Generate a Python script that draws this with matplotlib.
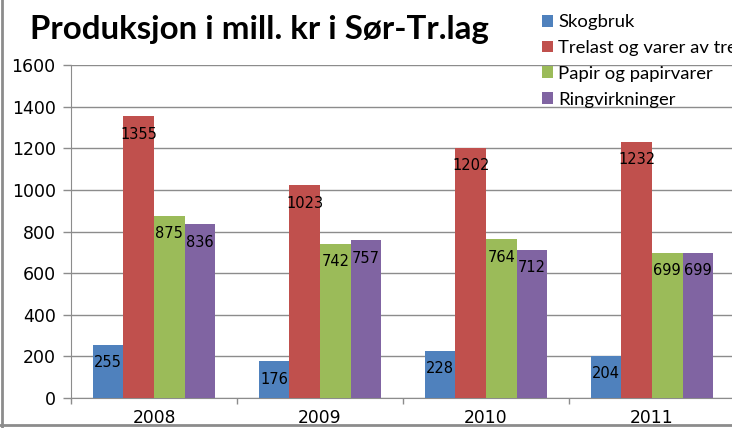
import numpy as np
from matplotlib import pyplot as plt
from matplotlib.lines import Line2D

years = ['2008', '2009', '2010', '2011']
series = ['Skogbruk', 'Trelast og varer av tre', 'Papir og papirvarer', 'Ringvirkninger']
skogbruk = [255, 176, 228, 204]
trelast = [1355, 1023, 1202, 1232]
papir = [875, 742, 764, 699]
ringvirkninger = [836, 757, 712, 699]
colors = ['#4F81BD', '#C0504D', '#9BBB59', '#8064A2']

W, H = 732, 428
fig = plt.figure(figsize=(W / 100, H / 100), dpi=100)
ax = fig.add_axes([71 / W, 1 - 398 / H, 664 / W, 333 / H])

x = np.arange(len(years))
bw = 0.184
values = [skogbruk, trelast, papir, ringvirkninger]
for i, (vals, name, c) in enumerate(zip(values, series, colors)):
    pos = x + (i - 1.5) * bw
    ax.bar(pos, vals, width=bw, color=c, label=name, zorder=3)
    for px, v in zip(pos, vals):
        ax.annotate(str(v), (px, v), xytext=(0, -13), textcoords='offset points',
                    ha='center', va='center', fontsize=10.5, color='black', zorder=4)

ax.set_ylim(0, 1600)
ax.set_xlim(-0.5, 3.5)
ax.set_yticks(range(0, 1601, 200))
ax.yaxis.grid(True, color='#8c8c8c', linewidth=1, zorder=0)
ax.tick_params(axis='y', length=6, width=1, color='#8c8c8c', labelsize=12.5, pad=5)

ax.set_xticks([-0.5, 0.5, 1.5, 2.5, 3.5])
ax.set_xticklabels([])
ax.set_xticks(x, minor=True)
ax.set_xticklabels(years, minor=True, fontsize=12.3)
ax.tick_params(axis='x', which='major', length=4, color='#8c8c8c', width=1)
ax.tick_params(axis='x', which='minor', length=0, pad=8)

for s in ['top', 'right']:
    ax.spines[s].set_visible(False)
for s in ['left', 'bottom']:
    ax.spines[s].set_color('#8c8c8c')

fig.text(30 / W, 1 - 29 / H, 'Produksjon i mill. kr i Sør-Tr.lag', fontsize=23.8,
         fontweight='bold', family='Lato', va='center', ha='left')

ax.legend(loc='upper left', bbox_to_anchor=(533 / W, 1 - 5 / H),
          bbox_transform=fig.transFigure, frameon=False, borderpad=0,
          handlelength=0.6, handleheight=0.6, handletextpad=0.27,
          labelspacing=0.53, prop={'family': 'Lato', 'size': 13.3})

# outer chart frame
fig.add_artist(Line2D([2 / W, 2 / W], [0, 1], color='#8c8c8c', linewidth=2, transform=fig.transFigure))
fig.add_artist(Line2D([0, 1], [3 / H, 3 / H], color='#8c8c8c', linewidth=2, transform=fig.transFigure))

plt.savefig('out.png', dpi=100)
